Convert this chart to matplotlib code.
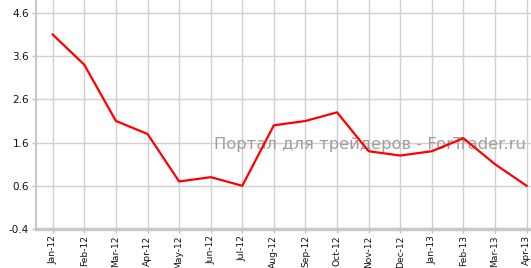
import matplotlib
matplotlib.use("Agg")
import matplotlib.pyplot as plt

months = ["Jan-12", "Feb-12", "Mar-12", "Apr-12", "May-12", "Jun-12", "Jul-12",
          "Aug-12", "Sep-12", "Oct-12", "Nov-12", "Dec-12", "Jan-13", "Feb-13",
          "Mar-13", "Apr-13"]
values = [4.1, 3.4, 2.1, 1.8, 0.7, 0.8, 0.6, 2.0, 2.1, 2.3, 1.4, 1.3, 1.4, 1.7, 1.1, 0.6]
yticks = [-0.4, 0.6, 1.6, 2.6, 3.6, 4.6]
watermark = "Портал для трейдеров - ForTrader.ru"

fig = plt.figure(figsize=(5.31, 2.68), dpi=100)
ax = fig.add_axes([36/531, 1 - 229/268, 1 - 36/531, 229/268])

x = list(range(len(months)))
ax.plot(x, values, color="#ff0000", lw=1.6, zorder=3)

ax.set_xlim(-0.53, len(months) - 1 + 0.14)
ax.set_ylim(-0.4, 4.9)
ax.set_xticks(x)
ax.set_xticklabels(months, rotation=90, fontsize=6.6, color="#111111")
ax.set_yticks(yticks)
ax.set_yticklabels([f"{v:.1f}" for v in yticks], fontsize=7.5, color="#111111")
ax.grid(True, color="#d0d0d0", lw=1.0, zorder=0)
ax.set_axisbelow(True)

for s in ["top", "right"]:
    ax.spines[s].set_visible(False)
ax.spines["left"].set_color("#c8c8c8")
ax.spines["left"].set_linewidth(1.5)
ax.spines["bottom"].set_color("#c8c8c8")
ax.spines["bottom"].set_linewidth(2.5)
ax.tick_params(axis="both", colors="#c0c0c0", length=3, width=1, labelcolor="#111111", pad=2)
ax.tick_params(axis="x", pad=1.5)

ax.text(10.04, 1.55, watermark, fontsize=11.8,
        color="#a89a9a", ha="center", va="center", family="DejaVu Sans", zorder=2)

fig.savefig("out.png", dpi=100)
